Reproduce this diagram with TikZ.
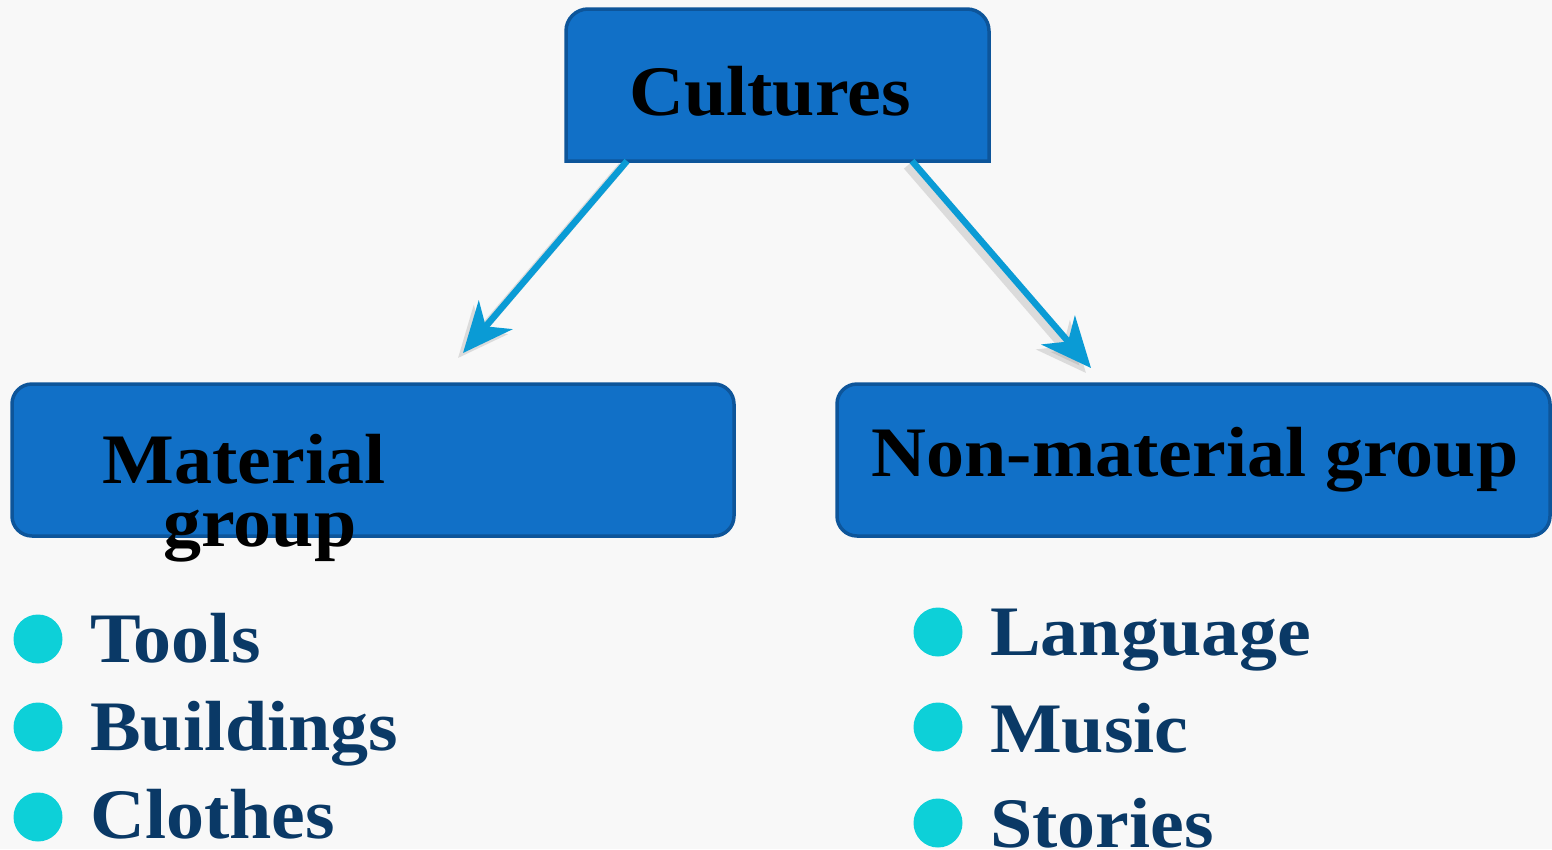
\documentclass[tikz,border=0pt]{standalone}
\usepackage{fontspec}
\setmainfont{Liberation Serif}[FakeStretch=1.07]
\usetikzlibrary{arrows.meta}
\definecolor{bg}{HTML}{F8F8F8}
\definecolor{boxfill}{HTML}{1170C7}
\definecolor{boxline}{HTML}{0D559A}
\definecolor{arrowc}{HTML}{0A9BD5}
\definecolor{bulletc}{HTML}{0DD0D8}
\definecolor{navy}{HTML}{0A3966}
\tikzset{
  boxshape/.style={fill=boxfill,draw=boxline,line width=3.5pt},
  boxarea/.style={rectangle,inner sep=0pt,outer sep=0pt},
  headtxt/.style={font=\bfseries\fontsize{71}{62}\selectfont,text=black,anchor=base,inner sep=0pt},
  itemtxt/.style={font=\bfseries\fontsize{71}{80}\selectfont,text=navy,anchor=base west,inner sep=0pt},
  bulletdot/.style={circle,fill=bulletc,minimum size=49pt,inner sep=0pt},
  linkarrow/.style={draw=arrowc,line width=6.5pt,-{Stealth[length=50pt,width=44pt,inset=15pt]}},
  shadowarrow/.style={draw=black!40,opacity=0.3,line width=8pt,-{Stealth[length=50pt,width=44pt,inset=15pt]}}
}
\begin{document}
\begin{tikzpicture}[x=1pt,y=-1pt]
\useasboundingbox (0,0) rectangle (1552,849);
\fill[bg] (0,0) rectangle (1552,849);

% boxes
\node[boxarea,minimum width=423pt,minimum height=152pt] (cult) at (777.5,85) {};
\draw[boxshape] (cult.south west) [rounded corners=22pt] -- (cult.north west) -- (cult.north east) [sharp corners] -- (cult.south east) -- cycle;
\node[headtxt] (culttxt) at (770,115) {Cultures};

\node[boxarea,minimum width=722pt,minimum height=152pt] (mat) at (373,460) {};
\draw[boxshape,rounded corners=20pt] (mat.south west) rectangle (mat.north east);

\node[boxarea,minimum width=713pt,minimum height=152pt] (non) at (1193.5,460) {};
\draw[boxshape,rounded corners=20pt] (non.south west) rectangle (non.north east);
\node[headtxt] (nontxt) at (1195,476) {Non-material group};

% arrows
\coordinate (ls) at (627,161);
\coordinate (le) at (463,353);
\coordinate (rs) at (912,161);
\coordinate (re) at (1091,368);
\draw[shadowarrow] ([shift={(-5,5)}]ls) -- ([shift={(-5,5)}]le);
\draw[shadowarrow] ([shift={(-5,5)}]rs) -- ([shift={(-5,5)}]re);
\draw[linkarrow] (ls) -- (le);
\draw[linkarrow] (rs) -- (re);

\node[headtxt] (mattxt) at (244,483) {Material};
\node[headtxt] (grptxt) at (260,546) {group};

% left list
\node[bulletdot] (b1) at (38,639) {};
\node[bulletdot] (b2) at (38,727) {};
\node[bulletdot] (b3) at (38,817) {};
\node[itemtxt] (t1) at (90,662) {Tools};
\node[itemtxt] (t2) at (90,750) {Buildings};
\node[itemtxt] (t3) at (90,838) {Clothes};

% right list
\node[bulletdot] (c1) at (938,632) {};
\node[bulletdot] (c2) at (938,727) {};
\node[bulletdot] (c3) at (938,823) {};
\node[itemtxt] (u1) at (990,655) {Language};
\node[itemtxt] (u2) at (990,752) {Music};
\node[itemtxt] (u3) at (990,847) {Stories};
\end{tikzpicture}
\end{document}
